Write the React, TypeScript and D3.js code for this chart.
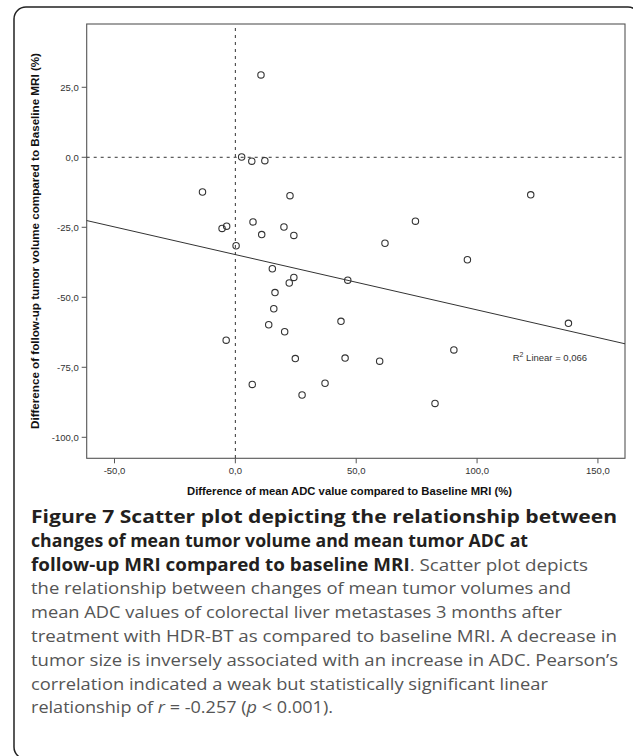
import React from "react";
import * as d3 from "d3";

const adcChange = [10.6, 2.6, 6.8, 12.2, -13.6, 22.6, 7.3, -5.5, -3.6, 20.1, 10.9, 24.2, 0.3, 15.3, 24.2, 22.3, 16.4, 15.9, 13.8, 20.4, -3.8, 24.8, 7.0, 27.6, 122.2, 74.5, 61.9, 96.0, 46.5, 43.7, 137.8, 90.4, 45.4, 59.7, 37.1, 82.6];
const volumeChange = [29.4, 0.1, -1.4, -1.2, -12.4, -13.7, -23.1, -25.4, -24.6, -24.9, -27.6, -27.9, -31.6, -39.8, -42.9, -44.9, -48.3, -54.1, -59.8, -62.3, -65.3, -71.9, -81.1, -84.9, -13.4, -22.8, -30.7, -36.6, -43.9, -58.6, -59.3, -68.8, -71.7, -72.8, -80.7, -87.9];

const xTicks = [-50, 0, 50, 100, 150];
const yTicks = [25, 0, -25, -50, -75, -100];
const xDomain = [-61.5, 161.2];
const yDomain = [-107.5, 47.6];
const fitIntercept = -34.75;
const fitSlope = -0.1976;
const r2Text = "0,066";

const xTitle = "Difference of mean ADC value compared to Baseline MRI (%)";
const yTitle = "Difference of follow-up tumor volume compared to Baseline MRI (%)";

const captionLines: { bold?: string; text?: string; end: number }[] = [
  { bold: "Figure 7 Scatter plot depicting the relationship between", end: 617 },
  { bold: "changes of mean tumor volume and mean tumor ADC at", end: 528 },
  { bold: "follow-up MRI compared to baseline MRI", text: ". Scatter plot depicts", end: 588 },
  { text: "the relationship between changes of mean tumor volumes and", end: 571 },
  { text: "mean ADC values of colorectal liver metastases 3 months after", end: 562 },
  { text: "treatment with HDR-BT as compared to baseline MRI. A decrease in", end: 617 },
  { text: "tumor size is inversely associated with an increase in ADC. Pearson\u2019s", end: 618 },
  { text: "correlation indicated a weak but statistically significant linear", end: 548 },
];
const lastLineEnd = 333;

const fmt = (v: number) => d3.format(".1f")(v).replace(".", ",").replace("\u2212", "-");

export default function App() {
  const L = 86.7, R = 625, T = 24, B = 458.3;
  const x = d3.scaleLinear().domain(xDomain).range([L, R]);
  const y = d3.scaleLinear().domain(yDomain).range([B, T]);
  const line = d3.line<number>().x((d) => x(d)).y((d) => y(fitIntercept + fitSlope * d));
  const axisFont = "'Liberation Sans', Arial, sans-serif";
  const capFont = "'Open Sans', sans-serif";
  const capX = 31;
  const capY0 = 523;
  const capDY = 23.8;
  const capSize = 17;

  return (
    <svg width={633} height={756} style={{ position: "absolute", left: 0, top: 0, background: "#fff" }}>
      <rect x={14} y={7} width={626} height={752} rx={12} ry={12} fill="none" stroke="#222" strokeWidth={1.5} />
      <rect x={L} y={T} width={R - L} height={B - T} fill="#fff" stroke="#555" strokeWidth={1.1} />
      {/* reference lines */}
      <line x1={x(0)} x2={x(0)} y1={T + 4} y2={B} stroke="#333" strokeWidth={1} strokeDasharray="3,4" />
      <line x1={L} x2={R} y1={y(0)} y2={y(0)} stroke="#333" strokeWidth={1} strokeDasharray="3,4" />
      {/* fit line */}
      <path d={line(xDomain) || ""} fill="none" stroke="#333" strokeWidth={1} />
      {/* points */}
      {adcChange.map((a, i) => (
        <circle key={i} cx={x(a)} cy={y(volumeChange[i])} r={3.2} fill="none" stroke="#333" strokeWidth={1.1} />
      ))}
      {/* y axis */}
      {yTicks.map((t) => (
        <g key={"y" + t}>
          <line x1={L - 5} x2={L} y1={y(t)} y2={y(t)} stroke="#555" strokeWidth={1} />
          <text x={L - 8} y={y(t) + 3.5} textAnchor="end" fontFamily={axisFont} fontSize={9.5} fill="#333">
            {fmt(t)}
          </text>
        </g>
      ))}
      {/* x axis */}
      {xTicks.map((t) => (
        <g key={"x" + t}>
          <line x1={x(t)} x2={x(t)} y1={B} y2={B + 5} stroke="#555" strokeWidth={1} />
          <text x={x(t)} y={B + 16} textAnchor="middle" fontFamily={axisFont} fontSize={9.5} fill="#333">
            {fmt(t)}
          </text>
        </g>
      ))}
      <text x={349.5} y={494.5} textAnchor="middle" fontFamily={axisFont} fontSize={10} fontWeight="bold" fill="#111" textLength={325} lengthAdjust="spacingAndGlyphs">
        {xTitle}
      </text>
      <text transform={`translate(38.5,241) rotate(-90)`} textAnchor="middle" fontFamily={axisFont} fontSize={10} fontWeight="bold" fill="#111" textLength={376} lengthAdjust="spacingAndGlyphs">
        {yTitle}
      </text>
      <text x={512.7} y={361} fontFamily={axisFont} fontSize={9.5} fill="#333">
        R<tspan fontSize={7} dy={-4}>2</tspan>
        <tspan dy={4}> Linear = {r2Text}</tspan>
      </text>
      {/* caption */}
      {captionLines.map((c, i) => (
        <text
          key={i}
          x={capX}
          y={capY0 + i * capDY}
          fontFamily={capFont}
          fontSize={capSize}
          textLength={c.end - capX}
          lengthAdjust="spacingAndGlyphs"
        >
          {c.bold && (
            <tspan fontWeight="bold" fill="#231f20">
              {c.bold}
            </tspan>
          )}
          {c.text && <tspan fill="#555">{c.text}</tspan>}
        </text>
      ))}
      <text x={capX} y={capY0 + 8 * capDY} fontFamily={capFont} fontSize={capSize} fill="#555" textLength={lastLineEnd - capX} lengthAdjust="spacingAndGlyphs">
        relationship of <tspan fontStyle="italic">r</tspan> = -0.257 (<tspan fontStyle="italic">p</tspan> &lt; 0.001).
      </text>
    </svg>
  );
}
